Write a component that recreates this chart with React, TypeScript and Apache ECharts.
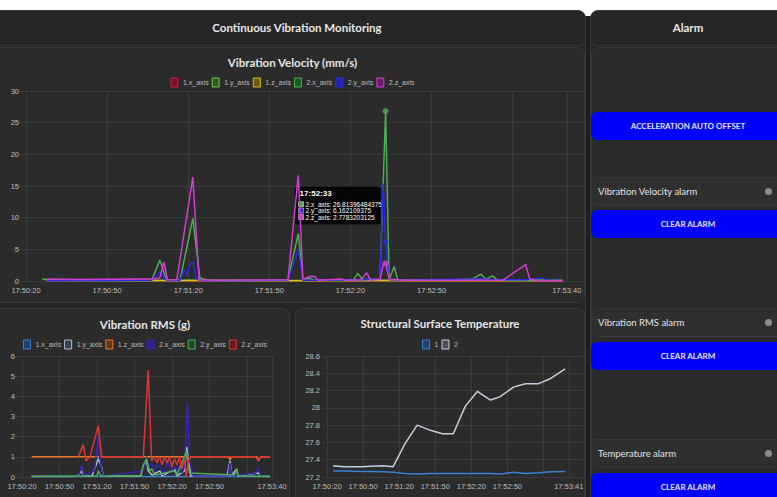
import React, { useEffect, useRef } from "react";
import * as echarts from "echarts";

// ---------- data (x = seconds after 17:50:20) ----------
const BASE_SECONDS = 17 * 3600 + 50 * 60 + 20;

const velocityNames = ["1.x_axis", "1.y_axis", "1.z_axis", "2.x_axis", "2.y_axis", "2.z_axis"];
const vel1x = [[8, 0.06], [20, 0.05], [35, 0.07], [50, 0.06], [65, 0.05], [80, 0.06], [95, 0.05], [110, 0.06], [125, 0.05], [140, 0.06], [155, 0.05], [170, 0.06], [185, 0.05], [198.5, 0.05]];
const vel1y = [[8, 0.1], [30, 0.09], [55, 0.1], [80, 0.1], [105, 0.09], [130, 0.1], [155, 0.1], [180, 0.09], [198.5, 0.1]];
const vel1z = [[8, 0.03], [40, 0.04], [80, 0.03], [120, 0.04], [160, 0.03], [198.5, 0.04]];
const vel2x = [[6, 0.3], [9, 0.15], [20, 0.05], [35, 0.05], [44, 0.05], [46.5, 0.2], [49.5, 3.3], [52, 0.1], [57, 0.2], [61.7, 9.9], [64.3, 0.5], [66, 0.3], [68, 0.05], [85, 0.05], [96.9, 0.2], [100.7, 7.5], [102.4, 0.2], [105, 0.4], [107, 0.1], [121, 0.1], [122.7, 1.2], [124.5, 0.2], [127, 0.3], [130.9, 0.2], [133, 26.81396484375], [134.3, 0.2], [136.2, 2.3], [137.5, 0.1], [150, 0.05], [165, 0.3], [168.2, 1.1], [170, 0.3], [172.6, 0.8], [174.5, 0.1], [185, 0.1], [198.5, 0.1]];
const vel2y = [[8, 0.05], [30, 0.05], [46.5, 0.1], [49.5, 1.5], [52, 0.1], [57, 0.1], [58.5, 1.8], [59.5, 0.8], [60.5, 2.5], [61.7, 3.1], [62.5, 1.2], [63.5, 0.2], [66, 0.05], [96.9, 0.1], [100.7, 4.9], [102.4, 0.1], [110, 0.1], [125, 0.2], [130.9, 0.3], [132.1, 15.4], [133, 6.162109375], [134.3, 0.2], [140, 0.1], [165, 0.3], [168, 0.4], [172, 0.2], [185, 0.2], [191, 0.5], [193, 0.1], [198.5, 0.1]];
const vel2z = [[8, 0.3], [20, 0.25], [40, 0.3], [47, 0.3], [49.5, 0.5], [51, 3.0], [52.3, 0.2], [55.8, 0.2], [61.7, 16.4], [64, 0.2], [70, 0.1], [96.9, 0.2], [100.7, 16.7], [102.4, 0.3], [105, 0.7], [106.8, 0.7], [108, 0.1], [116.8, 0.3], [118, 0.1], [124, 0.2], [126, 1.3], [127.5, 0.1], [131, 0.3], [132.2, 2.8], [133, 2.7783203125], [134.3, 0.3], [140, 0.1], [160, 0.1], [176.3, 0.1], [184.8, 2.6], [186.3, 0.3], [189, 0.05], [198.5, 0.05]];
const velocityLabelTicks = [0, 30, 60, 90, 120, 150, 200];
const velocityGridTicks = [0, 30, 60, 90, 120, 150, 180, 200];
const tooltipTime = 133;

const rmsNames = ["1.x_axis", "1.y_axis", "1.z_axis", "2.x_axis", "2.y_axis", "2.z_axis"];
const rms1x = [[7.7, 0.03], [50, 0.03], [100, 0.03], [150, 0.03], [198.4, 0.03]];
const rms1y = [[7.7, 0.02], [44, 0.02], [47.7, 0.3], [49.5, 0.05], [56, 0.05], [61, 0.9], [63.7, 0.5], [65, 0.05], [95, 0.05], [97, 0.5], [99.7, 0.8], [101, 0.3], [104, 0.1], [110.4, 0.3], [112, 0.05], [122.4, 0.4], [124, 0.05], [130, 0.3], [131.7, 1.5], [133.5, 0.8], [135, 0.05], [164, 0.05], [166.4, 0.8], [168, 0.1], [171.7, 0.4], [173, 0.05], [189, 0.2], [191, 0.05], [198.4, 0.02]];
const rms1z = [[7.7, 1.0], [30, 1.0], [60, 1.0], [90, 1.0], [120, 1.0], [150, 1.0], [165, 1.0], [166.4, 0.85], [168, 1.0], [188, 1.0], [189, 0.8], [191, 1.0], [198.4, 1.0]];
const rms2x = [[7.7, 0.02], [45, 0.02], [47.7, 0.6], [49.5, 0.1], [58, 0.3], [61, 2.0], [63, 0.6], [65, 0.05], [97, 0.3], [99.7, 1.0], [101, 0.5], [103.7, 0.7], [106, 0.3], [108, 0.6], [110.4, 0.5], [113, 0.1], [117, 0.8], [119, 0.2], [122.4, 0.5], [124, 0.3], [126.4, 0.7], [128, 0.2], [130, 0.5], [132.3, 3.7], [134, 0.8], [135.7, 0.4], [137, 0.05], [165, 0.05], [166.4, 0.7], [168, 0.05], [187, 0.2], [189, 0.5], [191, 0.05], [198.4, 0.02]];
const rms2y = [[7.7, 0.02], [60, 0.05], [61, 0.3], [63, 0.05], [95, 0.05], [97, 0.6], [99.7, 0.9], [102, 0.3], [104, 0.4], [106, 0.1], [122, 0.3], [124, 0.1], [131.7, 1.3], [134, 0.2], [170, 0.1], [171.7, 0.4], [173, 0.05], [198.4, 0.02]];
const rms2z = [[45, 1.0], [49, 1.6], [51.2, 0.8], [54.4, 1.0], [61, 2.55], [63.7, 1.0], [80, 1.0], [97, 1.0], [101, 5.3], [103.7, 0.8], [106, 1.0], [108, 0.7], [110, 1.0], [112, 0.6], [114, 1.0], [116, 0.7], [118, 1.0], [120, 0.5], [122, 0.9], [124, 0.6], [126, 1.0], [128, 0.4], [130, 0.9], [131.5, 0.0], [133, 0.8], [135, 1.0], [150, 1.0], [187, 1.0], [189, 0.8], [191, 1.0], [198.4, 1.0]];
const rmsLabelTicks = [0, 30, 60, 90, 120, 150, 200];
const rmsGridTicks = [0, 30, 60, 90, 120, 150, 180, 200];

const tempNames = ["1", "2"];
const tempTimes = [5, 14, 29, 36, 47, 55, 65, 75, 86, 96, 105, 115, 125, 136, 144, 155, 165, 176, 186, 198];
const temp1 = [27.27, 27.27, 27.265, 27.265, 27.26, 27.255, 27.24, 27.235, 27.24, 27.24, 27.24, 27.24, 27.24, 27.24, 27.235, 27.255, 27.24, 27.25, 27.26, 27.265];
const temp2 = [27.33, 27.32, 27.32, 27.325, 27.33, 27.32, 27.59, 27.8, 27.74, 27.7, 27.7, 28.02, 28.19, 28.09, 28.13, 28.24, 28.28, 28.28, 28.34, 28.45];
const tempLabelTicks = [0, 30, 60, 90, 120, 150, 201];
const tempGridTicks = [0, 30, 60, 90, 120, 150, 180, 201];

// ---------- styling ----------
const velocityColors = ["#c8243c", "#7ccf4a", "#e0c020", "#4cb050", "#2a2ae6", "#d23ed2"];
const velocityFills = ["#7a1020", "#2f5a22", "#6a5a10", "#1c5a28", "#2424b0", "#6a1c6a"];
const rmsColors = ["#3a80d4", "#aebcd4", "#e8782a", "#3526b0", "#4caf50", "#e03434"];
const rmsFills = ["#1d4070", "#3a4150", "#6a3612", "#2e2290", "#1f4a22", "#6a1a1a"];
const tempColors = ["#3a80d4", "#c6cedd"];
const tempFills = ["#1d4070", "#4a4e58"];

const GRID = "#3b3b3b";
const LABEL = "#bdbdbd";
const AXIS_FONT = "Liberation Sans";
const TITLE_FONT = "Lato";

const toClock = (sec: number) => {
  const total = BASE_SECONDS + Math.round(sec);
  const h = Math.floor(total / 3600);
  const m = Math.floor((total % 3600) / 60);
  const s = total % 60;
  return `${h}:${String(m).padStart(2, "0")}:${String(s).padStart(2, "0")}`;
};

const timeAxis = (max: number, labels: number[], grid: number[]) => ({
  type: "value",
  min: 0,
  max,
  axisLine: { show: false },
  axisTick: { show: false, customValues: grid },
  axisLabel: {
    customValues: labels,
    formatter: (v: number) => toClock(v),
    color: LABEL,
    fontSize: 7.5,
    fontFamily: AXIS_FONT,
    margin: 5,
  },
  splitLine: { show: true, lineStyle: { color: GRID, width: 1 } },
});

const valueAxis = (min: number, max: number, interval: number, tickLen: number) => ({
  type: "value",
  min,
  max,
  interval,
  axisLine: { show: false },
  axisTick: { show: true, length: tickLen, lineStyle: { color: GRID } },
  axisLabel: { color: LABEL, fontSize: 7.5, fontFamily: AXIS_FONT, margin: 7 },
  splitLine: { show: true, lineStyle: { color: GRID, width: 1 } },
});

const titleOpt = (text: string, top: number) => ({
  text,
  left: "center",
  top,
  padding: 0,
  textStyle: { color: "#e6e6e6", fontSize: 11.5, fontWeight: 700, fontFamily: TITLE_FONT },
});

const legendOpt = (names: string[], colors: string[], fills: string[], top: number) => ({
  top,
  left: "center",
  padding: 0,
  icon: "rect",
  itemWidth: 7,
  itemHeight: 9,
  itemGap: 3,
  textStyle: { color: LABEL, fontSize: 7, fontFamily: AXIS_FONT },
  data: names.map((n, i) => ({ name: n, itemStyle: { color: fills[i], borderColor: colors[i], borderWidth: 1 } })),
});

const lineSeries = (name: string, data: number[][], color: string) => ({
  name,
  type: "line",
  data,
  symbol: "none",
  showSymbol: false,
  color,
  lineStyle: { color, width: 1.5 },
});

// ---------- chart component ----------
function EChart({ style, option, after }: { style: React.CSSProperties; option: any; after?: (c: any) => void }) {
  const ref = useRef<HTMLDivElement>(null);
  useEffect(() => {
    const chart = echarts.init(ref.current!, null, { renderer: "svg" });
    chart.setOption(option);
    if (after) after(chart);
    return () => chart.dispose();
  }, []);
  return <div ref={ref} style={{ position: "absolute", ...style }} />;
}

const velocityData = [vel1x, vel1y, vel1z, vel2x, vel2y, vel2z];
const hoverPoints = [3, 4, 5].map((i) => {
  const p = velocityData[i].find((d) => d[0] === tooltipTime)!;
  return { name: velocityNames[i], value: p, color: velocityColors[i] };
});

const velocityOption = {
  animation: false,
  title: titleOpt("Vibration Velocity (mm/s)", 9),
  legend: legendOpt(velocityNames, velocityColors, velocityFills, 30.5),
  grid: { left: 26, right: 2, top: 44, bottom: 22, outerBoundsMode: "none" },
  xAxis: timeAxis(206, velocityLabelTicks, velocityGridTicks),
  yAxis: valueAxis(0, 30, 5, 14),
  series: [
    ...velocityNames.map((n, i) => lineSeries(n, velocityData[i], velocityColors[i])),
    {
      name: "hover",
      type: "scatter",
      symbolSize: 6,
      z: 5,
      data: hoverPoints.map((h) => ({ value: h.value, itemStyle: { color: h.color } })),
    },
  ],
};

const addTooltip = (chart: any) => {
  const peak = hoverPoints[0].value;
  const [px] = chart.convertToPixel({ gridIndex: 0 }, peak);
  const avg = hoverPoints.reduce((s, h) => s + h.value[1], 0) / hoverPoints.length;
  const [, ay] = chart.convertToPixel({ gridIndex: 0 }, [tooltipTime, avg]);
  const w = 86;
  const h = 38;
  const bx = px - 5 - w;
  const by = ay - h / 2;
  const children: any[] = [
    { type: "rect", shape: { x: 0, y: 0, width: w, height: h, r: 3 }, style: { fill: "rgba(0,0,0,0.88)" } },
    { type: "polygon", shape: { points: [[w, h / 2 - 4], [w + 4, h / 2], [w, h / 2 + 4]] }, style: { fill: "rgba(0,0,0,0.88)" } },
    {
      type: "text",
      x: 5,
      y: 7,
      style: { text: toClock(tooltipTime), fill: "#ffffff", font: `bold 8px "${AXIS_FONT}"`, verticalAlign: "middle" },
    },
  ];
  hoverPoints.forEach((p, i) => {
    const cy = 17.7 + i * 6.4;
    children.push({
      type: "rect",
      shape: { x: 4, y: cy - 2.5, width: 5, height: 5 },
      style: { fill: p.color, stroke: "#ffffff", lineWidth: 0.5 },
    });
    children.push({
      type: "text",
      x: 11,
      y: cy,
      style: { text: `${p.name}: ${p.value[1]}`, fill: "#ffffff", font: `6.5px "${AXIS_FONT}"`, verticalAlign: "middle" },
    });
  });
  chart.setOption({ graphic: [{ type: "group", x: bx, y: by, z: 100, children }] });
};

const rmsData = [rms1x, rms1y, rms1z, rms2x, rms2y, rms2z];
const rmsOption = {
  animation: false,
  title: titleOpt("Vibration RMS (g)", 10),
  legend: legendOpt(rmsNames, rmsColors, rmsFills, 31.5),
  grid: { left: 22, right: 15.5, top: 48, bottom: 20, outerBoundsMode: "none" },
  xAxis: timeAxis(202, rmsLabelTicks, rmsGridTicks),
  yAxis: valueAxis(0, 6, 1, 9),
  series: rmsNames.map((n, i) => lineSeries(n, rmsData[i], rmsColors[i])),
};

const tempData = [temp1, temp2].map((vals) => vals.map((v, i) => [tempTimes[i], v]));
const tempOption = {
  animation: false,
  title: titleOpt("Structural Surface Temperature", 9),
  legend: legendOpt(tempNames, tempColors, tempFills, 31.5),
  grid: { left: 32, right: 3, top: 48, bottom: 20, outerBoundsMode: "none" },
  xAxis: timeAxis(212, tempLabelTicks, tempGridTicks),
  yAxis: valueAxis(27.2, 28.6, 0.2, 4),
  series: tempNames.map((n, i) => lineSeries(n, tempData[i], tempColors[i])),
};

// ---------- layout ----------
const PANEL_BG = "#262626";
const CARD_BG = "#2b2b2b";
const BORDER = "#383838";

const box = (left: number, top: number, width: number, height: number, extra: React.CSSProperties = {}): React.CSSProperties => ({
  position: "absolute",
  left,
  top,
  width,
  height,
  boxSizing: "border-box",
  ...extra,
});

function Button({ top, label }: { top: number; label: string }) {
  return (
    <div
      style={box(591, top, 194, 28, {
        background: "#0000ff",
        borderRadius: 6,
        color: "#e4e4ff",
        fontFamily: TITLE_FONT,
        fontWeight: 700,
        fontSize: 8,
        lineHeight: "28px",
        textAlign: "center",
      })}
    >
      {label}
    </div>
  );
}

function AlarmRow({ top, label }: { top: number; label: string }) {
  return (
    <div
      style={box(591, top, 200, 29, {
        background: "#2f2f2f",
        border: `1px solid ${BORDER}`,
        borderRadius: 6,
      })}
    >
      <div
        style={{
          position: "absolute",
          left: 6,
          top: 0,
          lineHeight: "27px",
          color: "#e2e2e2",
          fontFamily: TITLE_FONT,
          fontSize: 9.5,
        }}
      >
        {label}
      </div>
      <div
        style={{
          position: "absolute",
          left: 173,
          top: 10,
          width: 7,
          height: 7,
          borderRadius: "50%",
          background: "#8c8c8c",
        }}
      />
    </div>
  );
}

export default function App() {
  const headerText: React.CSSProperties = {
    color: "#e8e8e8",
    fontFamily: TITLE_FONT,
    fontWeight: 700,
    fontSize: 11.5,
    textAlign: "center",
    lineHeight: "35px",
  };
  return (
    <div
      style={{
        position: "fixed",
        left: 0,
        top: 0,
        width: 777,
        height: 497,
        overflow: "hidden",
        background: "#ffffff",
      }}
    >
      <div style={box(0, 16, 777, 481, { background: "#1e1e1e" })} />

      {/* main panel */}
      <div style={box(-10, 10, 596, 500, { background: PANEL_BG, border: `1px solid ${BORDER}`, borderRadius: 8 })} />
      <div style={box(0, 10, 594, 35, headerText)}>Continuous Vibration Monitoring</div>
      <div style={box(-10, 45, 595, 1, { background: "#333333" })} />
      <div style={box(-10, 47, 595, 256, { background: CARD_BG, border: `1px solid ${BORDER}`, borderRadius: 8 })} />
      <div style={box(-10, 308, 300, 200, { background: CARD_BG, border: `1px solid ${BORDER}`, borderRadius: 8 })} />
      <div style={box(295, 308, 290, 200, { background: CARD_BG, border: `1px solid ${BORDER}`, borderRadius: 8 })} />

      <EChart style={{ left: 0, top: 47, width: 585, height: 256 }} option={velocityOption} after={addTooltip} />
      <EChart style={{ left: 0, top: 308, width: 290, height: 189 }} option={rmsOption} />
      <EChart style={{ left: 295, top: 308, width: 290, height: 189 }} option={tempOption} />

      {/* alarm panel */}
      <div style={box(590, 10, 200, 500, { background: PANEL_BG, border: `1px solid ${BORDER}`, borderRadius: 8 })} />
      <div style={box(590, 10, 196, 35, headerText)}>Alarm</div>
      <div style={box(590, 45, 200, 1, { background: "#333333" })} />
      <div style={box(591, 47, 200, 470, { background: CARD_BG, border: `1px solid ${BORDER}`, borderRadius: 8 })} />

      <Button top={112} label="ACCELERATION AUTO OFFSET" />
      <AlarmRow top={177} label="Vibration Velocity alarm" />
      <Button top={210} label="CLEAR ALARM" />
      <AlarmRow top={308} label="Vibration RMS alarm" />
      <Button top={342} label="CLEAR ALARM" />
      <AlarmRow top={439} label="Temperature alarm" />
      <Button top={473} label="CLEAR ALARM" />
    </div>
  );
}
